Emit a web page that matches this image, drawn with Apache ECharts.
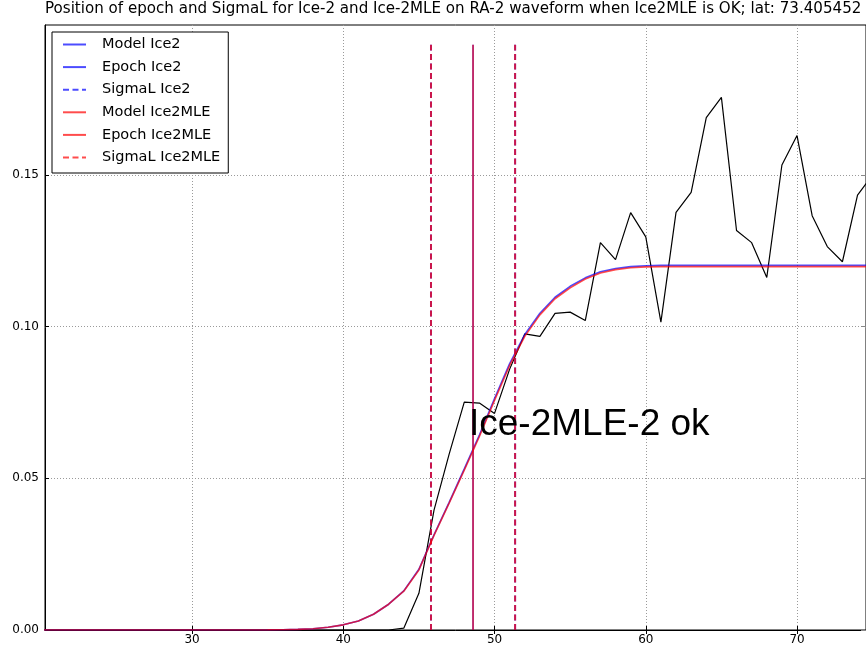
<!DOCTYPE html>
<html>
<head>
<meta charset="utf-8">
<script src="https://cdn.jsdelivr.net/npm/echarts@6/dist/echarts.min.js"></script>
<style>
  html, body { margin: 0; padding: 0; background: #fff; }
  #chart { width: 866px; height: 647px; }
</style>
</head>
<body>
<div id="chart"></div>
<script>
// ---- data ----
const titleText = 'Position of epoch and SigmaL for Ice-2 and Ice-2MLE on RA-2 waveform when Ice2MLE is OK; lat: 73.405452';
const noteText = 'Ice-2MLE-2 ok';

const gates = [20,21,22,23,24,25,26,27,28,29,30,31,32,33,34,35,36,37,38,39,
               40,41,42,43,44,45,46,47,48,49,50,51,52,53,54,55,56,57,58,59,
               60,61,62,63,64,65,66,67,68,69,70,71,72,73,74,75];

const waveform = [0,0,0,0,0,0,0,0,0,0,0,0,0,0,0,0,0,0,0,0,
                  0,0,0,0,0.0006,0.0121,0.0395,0.058,0.0751,0.0748,
                  0.0714,0.086,0.0976,0.0968,0.1044,0.1048,0.102,0.1277,0.1221,0.1376,
                  0.1296,0.1015,0.1377,0.1443,0.1689,0.1756,0.1317,0.1277,0.1162,0.1533,
                  0.163,0.1366,0.1264,0.1214,0.1434,0.150];

const modelIce2 = [0,0,0,0,0,0,0,0,0,0,0,0,0,0,0.00001,0.00003,0.00008,0.0002,0.0004,0.0009,
                   0.0017,0.003,0.0052,0.0085,0.0129,0.02,0.0314,0.0421,0.0531,0.0643,
                   0.0763,0.0878,0.0974,0.1044,0.1097,0.1133,0.1161,0.1181,0.1192,0.1198,
                   0.1201,0.1202,0.1202,0.1202,0.1202,0.1202,0.1202,0.1202,0.1202,0.1202,
                   0.1202,0.1202,0.1202,0.1202,0.1202,0.1202];

const modelIce2MLE = [0,0,0,0,0,0,0,0,0,0,0,0,0,0,0.00001,0.00003,0.00008,0.0002,0.0004,0.0009,
                      0.0017,0.003,0.0052,0.0085,0.0128,0.0198,0.0312,0.0418,0.0527,0.0638,
                      0.0757,0.0872,0.0968,0.1039,0.1092,0.1128,0.1157,0.1177,0.1188,0.1194,
                      0.1197,0.1198,0.1198,0.1198,0.1198,0.1198,0.1198,0.1198,0.1198,0.1198,
                      0.1198,0.1198,0.1198,0.1198,0.1198,0.1198];

const epochIce2 = [48.58];
const epochIce2MLE = [48.58];
const sigmaIce2 = [45.80, 51.36];
const sigmaIce2MLE = [45.80, 51.36];
const markerSpan = [0, 0.1929];

const xTicks = [30, 40, 50, 60, 70];
const yTicks = [0, 0.05, 0.10, 0.15];
const xRange = [20.28, 74.56];
const yRange = [0, 0.19945];

// ---- build ----
const BLUE = '#0000ff', RED = '#ff0000', OP = 0.7;
const zip = (xs, ys) => xs.map((x, i) => [x, ys[i]]);
const vline = x => markerSpan.map(y => [x, y]);

function lineSeries(name, data, color, width, dashed, z) {
  return {
    type: 'line', name: name, data: data, symbol: 'none', z: z,
    showSymbol: false, silent: true, clip: true,
    lineStyle: { color: color, width: width, opacity: color === '#000000' ? 1 : OP,
                 type: dashed ? [6, 3.5] : 'solid' },
    itemStyle: { color: color, opacity: OP }
  };
}

const series = [
  lineSeries('waveform', zip(gates, waveform), '#000000', 1.2, false, 2),
  lineSeries('Model Ice2', zip(gates, modelIce2), BLUE, 1.6, false, 3),
  lineSeries('Epoch Ice2', vline(epochIce2[0]), BLUE, 1.6, false, 3),
].concat(sigmaIce2.map(s => lineSeries('SigmaL Ice2', vline(s), BLUE, 2, true, 3)))
 .concat([
  lineSeries('Model Ice2MLE', zip(gates, modelIce2MLE), RED, 1.6, false, 4),
  lineSeries('Epoch Ice2MLE', vline(epochIce2MLE[0]), RED, 1.6, false, 4),
 ])
 .concat(sigmaIce2MLE.map(s => lineSeries('SigmaL Ice2MLE', vline(s), RED, 2, true, 4)));

const FONT = 'DejaVu Sans';
const gridLine = { show: true, lineStyle: { color: '#9a9a9a', width: 1, type: [1, 2] } };

const chart = echarts.init(document.getElementById('chart'), null, { renderer: 'canvas' });
chart.setOption({
  animation: false,
  backgroundColor: '#ffffff',
  title: {
    text: titleText, left: 45, top: 2, padding: 0,
    textStyle: { fontFamily: FONT, fontSize: 15.1, fontWeight: 'normal', color: '#000' }
  },
  grid: { left: 45, right: 0, top: 25, bottom: 17, show: true,
          borderColor: '#000', borderWidth: 1, backgroundColor: 'transparent' },
  legend: {
    data: ['Model Ice2', 'Epoch Ice2', 'SigmaL Ice2', 'Model Ice2MLE', 'Epoch Ice2MLE', 'SigmaL Ice2MLE'],
    orient: 'vertical', left: 52, top: 32,
    padding: [5, 8, 8, 10], itemGap: 7.6, itemWidth: 23, itemHeight: 14,
    backgroundColor: '#ffffff', borderColor: '#000', borderWidth: 1, borderRadius: 0,
    selectedMode: false,
    itemStyle: { opacity: 0, borderWidth: 0 },
    textStyle: { fontFamily: FONT, fontSize: 14.5, color: '#000', padding: [0, 0, 0, 11], lineHeight: 14 }
  },
  xAxis: [{
    type: 'value', min: xRange[0], max: xRange[1],
    axisLine: { show: true, lineStyle: { color: '#000', width: 1 } },
    axisTick: { show: true, inside: true, length: 4, customValues: xTicks, lineStyle: { color: '#000' } },
    axisLabel: { customValues: xTicks, fontFamily: FONT, fontSize: 12, color: '#000', margin: 4 },
    splitLine: gridLine
  }, {
    type: 'value', position: 'top', min: xRange[0], max: xRange[1],
    axisLine: { show: false },
    axisTick: { show: true, inside: true, length: 4, customValues: xTicks, lineStyle: { color: '#000' } },
    axisLabel: { show: false }, splitLine: { show: false }
  }],
  yAxis: [{
    type: 'value', min: yRange[0], max: yRange[1],
    axisLine: { show: true, lineStyle: { color: '#000', width: 1 } },
    axisTick: { show: true, inside: true, length: 4, customValues: yTicks, lineStyle: { color: '#000' } },
    axisLabel: { customValues: yTicks, fontFamily: FONT, fontSize: 12, color: '#000', margin: 6,
                 formatter: v => v.toFixed(2) },
    splitLine: gridLine
  }, {
    type: 'value', position: 'right', min: yRange[0], max: yRange[1],
    axisLine: { show: false },
    axisTick: { show: true, inside: true, length: 5, customValues: yTicks, lineStyle: { color: '#888' } },
    axisLabel: { show: false }, splitLine: { show: false }
  }],
  graphic: [{
    type: 'text', left: 469, top: 406, z: 100,
    style: { text: noteText, fontFamily: 'Liberation Sans', fontSize: 37, fill: '#000' }
  }],
  series: series
});
</script>
</body>
</html>
